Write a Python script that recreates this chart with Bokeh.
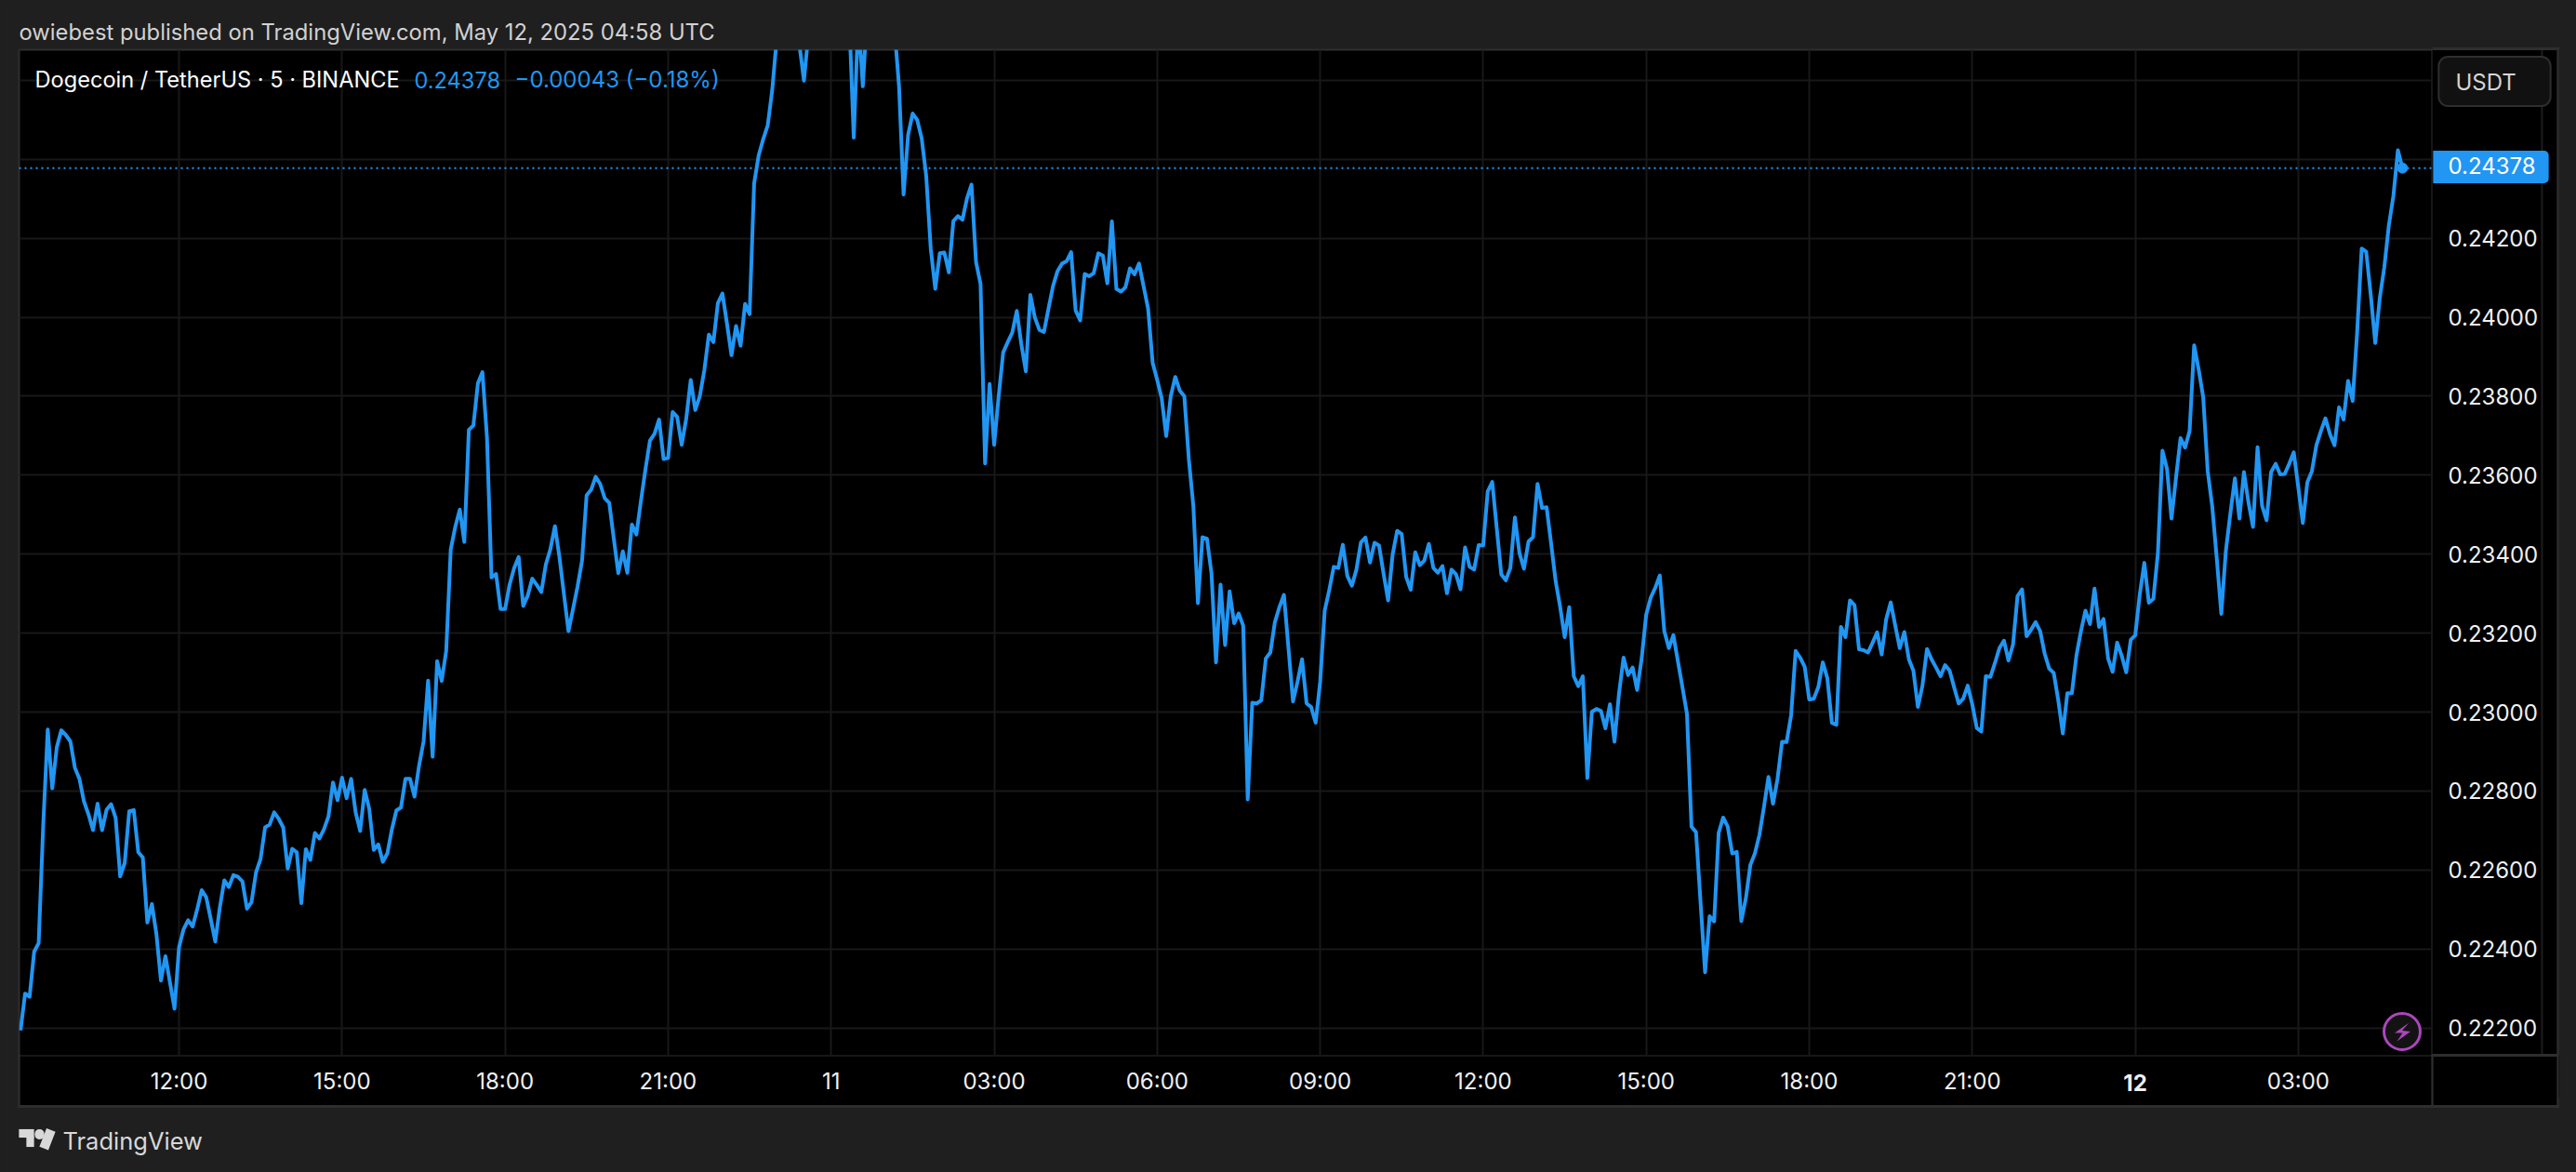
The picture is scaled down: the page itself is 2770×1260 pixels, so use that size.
from bokeh.plotting import figure
from bokeh.models import BoxAnnotation, Label, PolyAnnotation, FixedTicker, Span, Range1d
from bokeh.embed import file_html
from bokeh.resources import INLINE

# ---- data (close of 5-minute bars, in 1e-5 USDT; bar 0 = May 10 09:05 UTC) ----
close_e5 = [
22194,22287,22279,22393,22415,22713,22956,22807,22911,22954,
22942,22926,22859,22831,22774,22741,22701,22768,22701,22753,
22767,22732,22584,22618,22749,22752,22645,22632,22467,22514,
22438,22320,22382,22315,22249,22405,22450,22473,22457,22500,
22549,22531,22476,22419,22505,22574,22557,22587,22583,22571,
22502,22519,22594,22628,22708,22715,22746,22730,22708,22604,
22654,22645,22516,22653,22626,22694,22680,22703,22736,22822,
22777,22834,22782,22831,22746,22699,22803,22755,22651,22665,
22621,22642,22703,22751,22758,22831,22831,22786,22864,22926,
23080,22887,23129,23079,23155,23412,23469,23513,23431,23715,
23726,23833,23861,23696,23341,23350,23261,23261,23323,23365,
23393,23269,23295,23338,23322,23304,23374,23412,23471,23393,
23299,23205,23261,23318,23384,23549,23563,23596,23578,23542,
23530,23440,23352,23407,23353,23475,23450,23535,23615,23688,
23705,23741,23641,23644,23760,23748,23677,23743,23841,23765,
23800,23866,23956,23937,24036,24060,23984,23904,23978,23928,
24034,24008,24339,24410,24451,24486,24576,24708,24800,24850,
24900,24820,24690,24599,24720,24800,24850,24900,24880,24920,
24950,24900,24850,24760,24455,24760,24585,24780,24850,24900,
24870,24820,24780,24730,24585,24311,24462,24516,24500,24453,
24358,24174,24072,24162,24164,24114,24244,24256,24247,24301,
24336,24140,24084,23630,23831,23677,23800,23911,23937,23961,
24016,23932,23863,24057,23999,23968,23963,24022,24079,24117,
24136,24142,24165,24017,23992,24110,24104,24112,24162,24156,
24086,24243,24072,24065,24076,24124,24109,24136,24079,24022,
23885,23842,23795,23699,23800,23849,23814,23800,23640,23521,
23276,23443,23439,23351,23126,23323,23170,23306,23225,23250,
23219,22779,23024,23022,23030,23136,23151,23228,23266,23297,
23162,23027,23077,23134,23022,23013,22973,23077,23257,23309,
23368,23365,23424,23345,23320,23361,23430,23442,23379,23429,
23422,23351,23283,23399,23459,23451,23342,23310,23405,23372,
23384,23426,23365,23353,23370,23301,23361,23349,23311,23417,
23368,23361,23423,23422,23559,23583,23465,23349,23334,23365,
23493,23403,23363,23432,23443,23578,23517,23519,23427,23332,
23266,23190,23266,23091,23066,23091,22833,23001,23008,23003,
22959,23020,22925,23048,23138,23094,23113,23056,23136,23247,
23290,23315,23346,23205,23162,23195,23129,23063,22996,22710,
22696,22519,22341,22483,22470,22694,22733,22710,22642,22646,
22471,22528,22613,22642,22689,22760,22836,22768,22831,22925,
22924,22992,23155,23138,23115,23032,23034,23063,23126,23086,
22973,22968,23216,23190,23283,23271,23159,23157,23151,23176,
23202,23146,23236,23278,23219,23162,23203,23134,23105,23013,
23067,23160,23134,23113,23091,23119,23105,23063,23022,23034,
23067,23020,22960,22951,23091,23089,23124,23162,23181,23131,
23171,23294,23311,23192,23209,23228,23205,23148,23110,23099,
23030,22946,23048,23048,23143,23205,23257,23223,23313,23216,
23236,23136,23102,23176,23143,23101,23183,23195,23299,23378,
23277,23287,23403,23662,23617,23490,23594,23694,23670,23712,
23929,23868,23798,23610,23521,23389,23249,23408,23503,23592,
23490,23608,23531,23469,23671,23523,23486,23608,23629,23602,
23603,23629,23658,23570,23479,23582,23610,23676,23712,23744,
23704,23676,23772,23741,23839,23788,23962,24174,24166,24057,
23935,24049,24127,24233,24307,24423,24378,
]
time_tick_bars = [35, 71, 107, 143, 179, 215, 251, 287, 323, 359, 395, 431, 467, 503]
time_tick_labels = ["12:00", "15:00", "18:00", "21:00", "11", "03:00", "06:00",
                    "09:00", "12:00", "15:00", "18:00", "21:00", "12", "03:00"]
price_ticks = [0.222, 0.224, 0.226, 0.228, 0.230, 0.232, 0.234, 0.236, 0.238, 0.240, 0.242, 0.244, 0.246]
last_price = 0.24378
bold_day_tick_bar = 467

close = [v / 1e5 for v in close_e5]
bars = list(range(len(close)))

# ---- layout in reference pixels ----
L, R, T, B = 20, 2615, 53, 1135      # chart pane
OUT_R, OUT_B = 2750, 1190
BG, PANE_LINE, GRID, BLUE = "#1f1f1f", "#2e2e2e", "#181818", "#2196f3"
FONT = "Inter"
X0, X1 = -0.33, 532.6
AXIS_H = 45      # height of the time axis panel
TEXT_K = 1.02    # stacked label height per font px
RECT_H = 1.0     # height of the 1px filler text of a shape label

p = figure(width=2770, height=1260, frame_width=R - L, frame_height=B - T,
           output_backend="svg", toolbar_location=None,
           x_axis_location="below", y_axis_location="right",
           min_border_left=L, min_border_top=T,
           min_border_right=2770 - R, min_border_bottom=1260 - B,
           background_fill_color="#000000", border_fill_color=BG,
           outline_line_color=PANE_LINE, outline_line_width=2)
p.x_range = Range1d(X0, X1)
p.y_range = Range1d(0.221286, 0.246775)

stack = [B + AXIS_H]   # bottom edge of the label stack below the axis, in reference px


def outer_text(s, x, y, color, size, align="left", style="normal"):
    stack[0] += TEXT_K * size
    p.add_layout(Label(x=x - L, y=stack[0] - y, x_units="screen", y_units="screen", text=s,
                       text_color=color, text_font=FONT, text_font_size=f"{size}px",
                       text_font_style=style, text_align=align, text_baseline="middle",
                       level="overlay"), "below")


def outer_rect(l, r, t, b, color, radius=0, angle=0, line=None):
    ph, pv = int(round((r - l) / 2)), int(round((b - t) / 2))
    stack[0] += 2 * pv + RECT_H
    p.add_layout(Label(x=(l + r) / 2 - L, y=stack[0] - (t + b) / 2, x_units="screen", y_units="screen",
                       text=" ", text_font_size="1px", text_align="center", text_baseline="middle",
                       padding=(ph, pv), background_fill_color=color, background_fill_alpha=1,
                       border_line_color=line, border_line_width=2, border_radius=radius, angle=angle), "below")


def inner_text(s, x, y, color, size):
    p.add_layout(Label(x=x - L, y=B - y, x_units="screen", y_units="screen", text=s,
                       text_color=color, text_font=FONT, text_font_size=f"{size}px",
                       text_align="left", text_baseline="middle"))


# axes, with black strips as their backgrounds
xa = p.xaxis[0]
xa.ticker = FixedTicker(ticks=time_tick_bars)
xa.major_label_overrides = {b: ("" if b == bold_day_tick_bar else s)
                            for b, s in zip(time_tick_bars, time_tick_labels)}
xa.major_label_text_color = "#f0f0f0"
xa.major_label_text_font = FONT
xa.major_label_text_font_size = "24px"
xa.major_label_standoff = 6
xa.major_tick_line_color = None
xa.minor_tick_line_color = None
xa.axis_line_color = None
xa.background_fill_color = "#000000"

ya = p.yaxis[0]
ya.ticker = FixedTicker(ticks=price_ticks)
ya.major_label_overrides = {v: f"{v:.5f}" for v in price_ticks}
ya.major_label_text_color = "#f0f0f0"
ya.major_label_text_font = FONT
ya.major_label_text_font_size = "24px"
ya.major_label_standoff = 11
ya.major_tick_line_color = None
ya.minor_tick_line_color = None
ya.axis_line_color = None
ya.background_fill_color = "#000000"

p.xgrid.ticker = FixedTicker(ticks=time_tick_bars)
p.ygrid.ticker = FixedTicker(ticks=price_ticks)
p.xgrid.grid_line_color = GRID
p.ygrid.grid_line_color = GRID
p.xgrid.grid_line_width = 2
p.ygrid.grid_line_width = 2

# series
p.line(bars, close, line_color=BLUE, line_width=4, line_join="round")
p.scatter(bars[-1:], close[-1:], size=11, color=BLUE)
p.add_layout(Span(location=last_price, dimension="width", line_color=BLUE,
                  line_width=2, line_dash="2 4", level="glyph"))

# lightning badge (inside the pane)
p.add_layout(BoxAnnotation(left=2563 - L, right=2602 - L, top=B - 1089, bottom=B - 1128,
                           left_units="screen", right_units="screen", top_units="screen", bottom_units="screen",
                           fill_color="#131313", fill_alpha=1, line_color="#ab47bc", line_alpha=1,
                           line_width=3, border_radius=20))
bolt = [(2590, 1099), (2574.5, 1110), (2583, 1110), (2577, 1119), (2591.5, 1108.5), (2582.5, 1107.5)]
p.add_layout(PolyAnnotation(xs=[a - L for a, _ in bolt], ys=[B - b for _, b in bolt],
                            xs_units="screen", ys_units="screen",
                            fill_color="#ab47bc", fill_alpha=1, line_alpha=0))

# legend line inside the pane
inner_text("Dogecoin / TetherUS · 5 · BINANCE", 37, 85, "#ffffff", 23.6)
inner_text("0.24378", 445, 85, BLUE, 23.6)
inner_text("−0.00043 (−0.18%)", 553, 85, BLUE, 24)

# shapes outside the pane: strip extensions and borders, logo, USDT button, price tag
outer_rect(R + 1, OUT_R + 1, B + 1, 1179, "#000000")
outer_rect(2734, OUT_R, T, OUT_B, "#000000")
outer_rect(L, OUT_R, 1178, OUT_B, "#000000")
outer_rect(R, OUT_R + 2, T - 1, T + 1, PANE_LINE)
outer_rect(OUT_R - 1, OUT_R + 1, T - 1, OUT_B + 1, PANE_LINE)
outer_rect(L - 1, OUT_R + 1, OUT_B - 1, OUT_B + 1, PANE_LINE)
outer_rect(L - 1, L + 1, B, OUT_B, PANE_LINE)
outer_rect(R - 1, R + 1, B, OUT_B, PANE_LINE)
outer_rect(R, OUT_R, B - 1, B + 1, PANE_LINE)
outer_rect(20, 36, 1215, 1223, "#d8d8d8")
outer_rect(28, 36, 1223, 1233, "#d8d8d8")
outer_rect(37, 47, 1215, 1225, "#d8d8d8", radius=5)
outer_rect(2622, 2742, 62, 114, "#111111", radius=10, line=PANE_LINE)
outer_rect(2616, 2740, 163, 197, BLUE, radius=(0, 5, 5, 0))

# texts outside the pane
outer_text("owiebest published on TradingView.com, May 12, 2025 04:58 UTC", 20, 30, "#d1d1d1", 23.8)
outer_text("TradingView", 67, 1217, "#d8d8d8", 25.5)
bold_px = L + (bold_day_tick_bar - X0) / (X1 - X0) * (R - L)
outer_text("12", bold_px, 1161, "#f0f0f0", 24, align="center", style="bold")
outer_text("0.24378", 2632, 181.5, "#ffffff", 24)
outer_text("USDT", 2640, 88, "#d4d4d4", 24)

# last logo part (rotated)
outer_rect(45.5, 55.5, 1214.5, 1233.5, "#d8d8d8", angle=-0.37)

html = file_html(p, INLINE)
html = html.replace("<body>", f'<body style="background:{BG};overflow:hidden">')
open("out.html", "w").write(html)
